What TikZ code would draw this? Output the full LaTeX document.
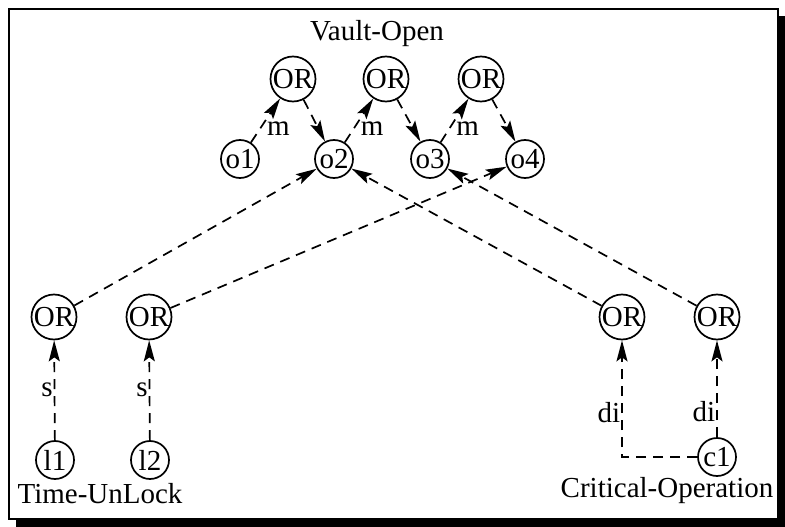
\documentclass[tikz,border=0pt]{standalone}
\usepackage{fontspec}
\setmainfont{Liberation Serif}
\usetikzlibrary{arrows.meta}

\begin{document}
\begin{tikzpicture}[x=1pt,y=-1pt,line width=1.7pt,font=\fontsize{29}{34}\selectfont]
        \tikzstyle{event}=[circle,draw,inner sep=0pt,minimum size=38pt]
        \tikzstyle{or gate}=[event,minimum size=45pt]
        \tikzstyle{link}=[draw,-{Stealth[length=21pt,width=11pt,inset=4pt]},dash pattern=on 10pt off 7pt]
        \tikzstyle{lbl}=[inner sep=1pt]
        \tikzstyle{annot}=[inner sep=0pt]

        \useasboundingbox (0,0) rectangle (785,527);

        % Draw the frame and its shadow
        \draw[line width=1.5pt] (9,9) rectangle (778,519);
        \fill (16,519) rectangle (785,527);
        \fill (778,16) rectangle (785,527);

        % Draw the Vault-Open nodes
        \foreach \name / \x in {1/240,2/334,3/430,4/525}
            \node[event] (O-\name) at (\x,159) {o\name};
        \foreach \name / \x in {1/293,2/386,3/481}
            \node[or gate] (T-\name) at (\x,79) {OR};
        \node[annot] (vault) at (377,34) {Vault-Open};

        % Draw the lower OR nodes
        \foreach \name / \x in {1/54,2/149,3/622,4/717}
            \node[or gate] (B-\name) at (\x,317) {OR};

        % Draw the source nodes
        \node[event] (L-1) at (55,460) {l1};
        \node[event] (L-2) at (150,460) {l2};
        \node[event] (C-1) at (717,457) {c1};
        \node[annot] (unlock) at (100,494) {Time-UnLock};
        \node[annot] (critical) at (667,491) {Critical-Operation};

        % Connect the Vault-Open nodes through the OR nodes
        \foreach \source / \dest in {1/2,2/3,3/4} {
            \path (O-\source) edge[link] node[lbl,right,pos=0.32,xshift=5pt] {m} (T-\source);
            \path (T-\source) edge[link] (O-\dest);
        }

        % Connect the lower OR nodes with the Vault-Open nodes
        \foreach \source / \dest in {1/2,2/4,3/2,4/3}
            \path (B-\source) edge[link] (O-\dest);

        % Connect the sources
        \foreach \name in {1,2}
            \path (L-\name) edge[link] node[lbl,left] {s} (B-\name);
        \path (C-1) edge[link] node[lbl,left,pos=0.26] {di} (B-4);
        \draw[link] (C-1) -| node[lbl,left,pos=0.69] {di} (B-3);
\end{tikzpicture}
\end{document}
